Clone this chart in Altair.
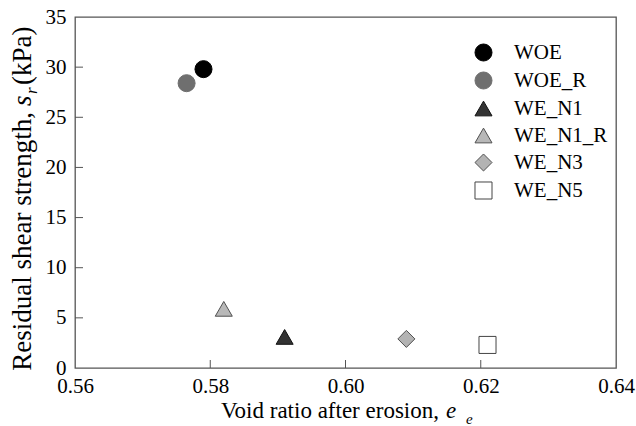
import altair as alt
import pandas as pd

# ---- data ----
series = ["WOE", "WOE_R", "WE_N1", "WE_N1_R", "WE_N3", "WE_N5"]
void_ratio = [0.579, 0.5765, 0.591, 0.582, 0.609, 0.621]
shear_strength = [29.8, 28.4, 3.1, 5.9, 2.9, 2.3]

# ---- styles ----
shapes = ["circle", "circle", "triangle-up", "triangle-up", "diamond", "square"]
fills = ["#000000", "#6f6f6f", "#333333", "#b8b8b8", "#b3b3b3", "#ffffff"]
strokes = ["#000000", "#6f6f6f", "#111111", "#505050", "#505050", "#444444"]
sizes = [290, 290, 361, 361, 400, 230]

x_ticks = [0.56, 0.58, 0.60, 0.62, 0.64]
y_ticks = [0, 5, 10, 15, 20, 25, 30, 35]

FONT = "Liberation Serif"
LS = 21
W, H = 541, 351

df = pd.DataFrame({"series": series, "e": void_ratio, "s": shear_strength})

xs = alt.Scale(domain=[x_ticks[0], x_ticks[-1]], nice=False, zero=False)
ys = alt.Scale(domain=[y_ticks[0], y_ticks[-1]], nice=False, zero=False)
xax = alt.Axis(values=x_ticks, format=".2f", title=None, labelPadding=7, labelFlush=False,
               labelFont=FONT, labelFontSize=LS, labelColor="#000")
yax = alt.Axis(values=y_ticks, format="d", title=None, labelPadding=9, labelFlush=False,
               labelFont=FONT, labelFontSize=LS, labelColor="#000")

leg = alt.Legend(
    title=None, orient="none", legendX=398, legendY=25, padding=0,
    labelFont=FONT, labelFontSize=LS, labelColor="#000",
    rowPadding=5, labelOffset=20, symbolStrokeWidth=1, symbolOpacity=1,
)

points = alt.Chart(df).mark_point(filled=True, opacity=1, strokeWidth=1).encode(
    x=alt.X("e:Q", scale=xs, axis=xax),
    y=alt.Y("s:Q", scale=ys, axis=yax),
    shape=alt.Shape("series:N", scale=alt.Scale(domain=series, range=shapes), legend=leg),
    fill=alt.Fill("series:N", scale=alt.Scale(domain=series, range=fills), legend=leg),
    stroke=alt.Stroke("series:N", scale=alt.Scale(domain=series, range=strokes), legend=leg),
    size=alt.Size("series:N", scale=alt.Scale(domain=series, range=sizes), legend=leg),
)

xt = pd.DataFrame({"v": x_ticks[1:-1]})
yt = pd.DataFrame({"v": y_ticks[1:-1]})
xtick = alt.Chart(xt).mark_rule(color="#555", strokeWidth=1).encode(
    x=alt.X("v:Q", scale=xs, axis=xax), y=alt.value(H), y2=alt.value(H - 8))
ytick = alt.Chart(yt).mark_rule(color="#555", strokeWidth=1).encode(
    y=alt.Y("v:Q", scale=ys, axis=yax), x=alt.value(0), x2=alt.value(8))

one = pd.DataFrame({"a": [0]})


def txt(text, x, y, size, italic=False, align="left", angle=0):
    kw = dict(font=FONT, fontSize=size, align=align, baseline="alphabetic", color="#000")
    if italic:
        kw["fontStyle"] = "italic"
    if angle:
        kw["angle"] = angle
    return alt.Chart(one).mark_text(**kw).encode(
        x=alt.value(x), y=alt.value(y), text=alt.value(text))


# x-axis title: "Void ratio after erosion, e_e"
xtitle = [
    txt("Void ratio after erosion,", 364, 401, 23, align="right"),
    txt("e", 371, 401, 23, italic=True),
    txt("e", 391, 407, 15, italic=True),
]
# y-axis title (rotated): "Residual shear strength, s_r (kPa)"
YX = -44
YS = 27
ytitle = [
    txt("Residual shear strength,", YX, 95, YS, align="right", angle=270),
    txt("s", YX, 89, YS, italic=True, angle=270),
    txt("r", YX + 6, 77, 17, italic=True, angle=270),
    txt("(kPa)", YX, 68, YS, angle=270),
]

chart = alt.layer(points, xtick, ytick, *xtitle, *ytitle).properties(
    width=W, height=H,
    autosize=alt.AutoSizeParams(type="none"),
    padding={"left": 75, "top": 17, "right": 20, "bottom": 58},
    background="white",
).configure(font=FONT).configure_view(stroke="#555", strokeWidth=1.3).configure_axis(
    labelFont=FONT, labelFontSize=LS, labelColor="#000",
    domain=False, ticks=False, grid=False,
).configure_legend(labelFont=FONT, labelFontSize=LS, labelColor="#000")

chart.save("out.html", embed_options={"renderer": "svg", "actions": False})
